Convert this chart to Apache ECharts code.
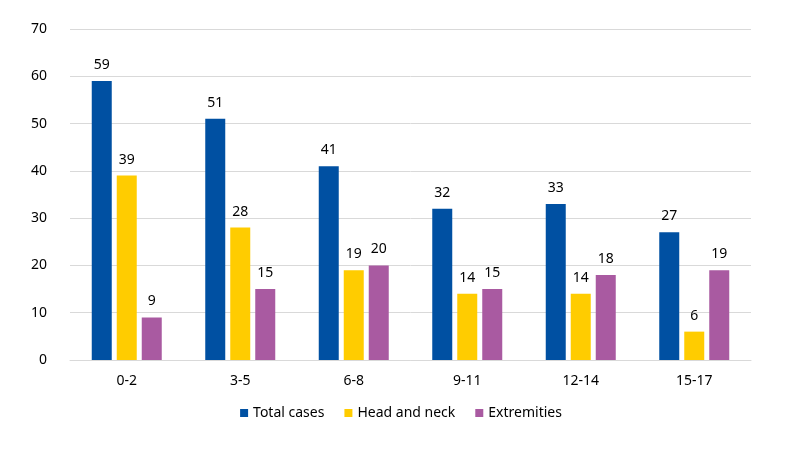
<!DOCTYPE html>
<html>
<head>
<meta charset="utf-8">
<script src="https://cdn.jsdelivr.net/npm/echarts@6/dist/echarts.min.js"></script>
<style>html,body{margin:0;padding:0;background:#fff}#c{width:802px;height:461px}</style>
</head>
<body>
<div id="c"></div>
<script>
const categories = ['0-2','3-5','6-8','9-11','12-14','15-17'];
const totalCases = [59,51,41,32,33,27];
const headAndNeck = [39,28,19,14,14,6];
const extremities = [9,15,20,15,18,19];
const seriesNames = ['Total cases','Head and neck','Extremities'];
const colors = ['#0050A2','#FFCC00','#A95AA1'];

const font = 'Noto Sans';
const chart = echarts.init(document.getElementById('c'));
const mk = (name, data, color) => ({
  name, type: 'bar', data, barWidth: 20, barGap: '25%',
  itemStyle: {color},
  label: {show: true, position: 'top', distance: 9, color: '#000', fontSize: 14, fontFamily: font}
});
chart.setOption({
  animation: false,
  color: colors,
  grid: {left: 70, right: 51, top: 29, bottom: 101},
  legend: {
    bottom: 36, left: 'center', itemWidth: 8, itemHeight: 8, itemGap: 20,
    icon: 'rect',
    textStyle: {color: '#000', fontSize: 14, fontFamily: font}
  },
  xAxis: {
    type: 'category', data: categories,
    axisTick: {show: false},
    axisLine: {lineStyle: {color: '#d9d9d9'}},
    axisLabel: {color: '#000', fontSize: 14, fontFamily: font, margin: 14}
  },
  yAxis: {
    type: 'value', min: 0, max: 70, interval: 10,
    axisLabel: {color: '#000', fontSize: 14, fontFamily: font, margin: 23},
    splitLine: {lineStyle: {color: '#d9d9d9'}}
  },
  series: [
    mk(seriesNames[0], totalCases, colors[0]),
    mk(seriesNames[1], headAndNeck, colors[1]),
    mk(seriesNames[2], extremities, colors[2])
  ]
});
</script>
</body>
</html>
